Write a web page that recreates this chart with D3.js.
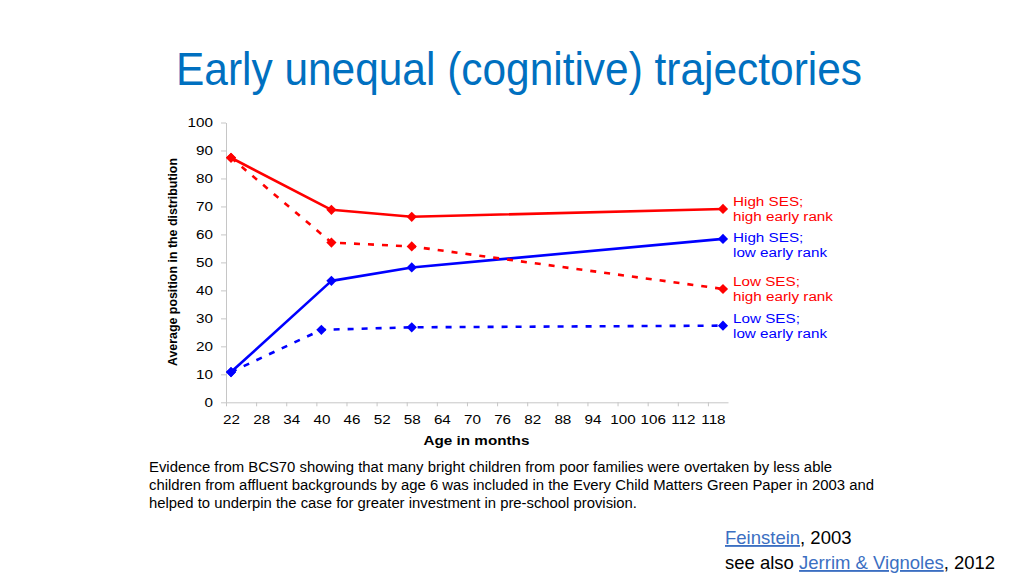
<!DOCTYPE html>
<html>
<head>
<meta charset="utf-8">
<script src="https://cdn.jsdelivr.net/npm/d3@7"></script>
<style>
  html, body { margin: 0; padding: 0; background: #ffffff; }
  svg { display: block; font-family: "Liberation Sans", Arial, Helvetica, sans-serif; }
</style>
</head>
<body>
<svg id="chart" width="1024" height="576"></svg>
<script>
// ---------------- DATA ----------------
const titleText = "Early unequal (cognitive) trajectories";
const yAxisTitle = "Average position in the distribution";
const xAxisTitle = "Age in months";

const yTickLabels = [0, 10, 20, 30, 40, 50, 60, 70, 80, 90, 100];
const xTickLabels = [22, 28, 34, 40, 46, 52, 58, 64, 70, 76, 82, 88, 94, 100, 106, 112, 118];

const ages = [22, 42, 58, 120];
const agesLowLow = [22, 40, 58, 120];

const highSesHighRank = [87.4, 68.8, 66.3, 69.1];
const highSesLowRank  = [10.8, 43.4, 48.2, 58.4];
const lowSesHighRank  = [87.4, 57.1, 55.7, 40.5];
const lowSesLowRank   = [10.8, 25.9, 26.8, 27.4];

const seriesLabels = [
  ["High SES;", "high early rank"],
  ["High SES;", "low early rank"],
  ["Low SES;", "high early rank"],
  ["Low SES;", "low early rank"]
];

const bodyLines = [
  "Evidence from BCS70 showing that many bright children from poor families were overtaken by less able",
  "children from affluent backgrounds by age 6 was included in the Every Child Matters Green Paper in 2003 and",
  "helped to underpin the case for greater investment in pre-school provision."
];

// ---------------- DRAW ----------------
const svg = d3.select("#chart");
const RED = "#ff0000", BLUE = "#0000ff", AXIS = "#c6c6c6", STRETCH = 1.27;

const series = [
  { x: ages, v: highSesHighRank, color: RED, dash: null, label: seriesLabels[0] },
  { x: ages, v: highSesLowRank, color: BLUE, dash: null, label: seriesLabels[1] },
  { x: ages, v: lowSesHighRank, color: RED, dash: "6,8", label: seriesLabels[2] },
  { x: agesLowLow, v: lowSesLowRank, color: BLUE, dash: "6,8", label: seriesLabels[3] }
];

const x = d3.scaleLinear().domain([21, 121]).range([226, 728]);
const y = d3.scaleLinear().domain([0, 100]).range([402.3, 122.5]);

// Title
svg.append("text")
  .attr("x", 519).attr("y", 85)
  .attr("text-anchor", "middle")
  .attr("font-size", 47)
  .attr("fill", "#0070c0")
  .attr("textLength", 686).attr("lengthAdjust", "spacingAndGlyphs")
  .text(titleText);

// Y axis
const yAxis = svg.append("g")
  .attr("transform", `translate(${x.range()[0]},0)`)
  .call(d3.axisLeft(y).tickValues(yTickLabels).tickSize(5).tickPadding(8).tickSizeOuter(0));

// X axis tick marks (between labels)
const xMarks = svg.append("g")
  .attr("transform", `translate(0,${y(0)})`)
  .call(d3.axisBottom(x).tickValues(xTickLabels.map(v => v - 1)).tickSize(4).tickSizeOuter(0).tickFormat(""));
// X axis labels
const xLabels = svg.append("g")
  .attr("transform", `translate(0,${y(0)})`)
  .call(d3.axisBottom(x).tickValues(xTickLabels).tickSize(0).tickPadding(13).tickSizeOuter(0));
xLabels.select(".domain").remove();

[yAxis, xMarks].forEach(g => {
  g.selectAll(".domain").attr("stroke", AXIS).attr("stroke-width", 1);
  g.selectAll(".tick line").attr("stroke", AXIS).attr("stroke-width", 1);
});
[yAxis, xLabels].forEach(g => {
  g.selectAll(".tick text")
    .attr("font-size", 12)
    .attr("font-family", "Liberation Sans, Arial, sans-serif")
    .attr("fill", "#000")
    .classed("stretch", true);
});

// Axis titles
svg.append("text")
  .attr("transform", "translate(177,262) rotate(-90)")
  .attr("text-anchor", "middle")
  .attr("font-size", 12).attr("font-weight", "bold")
  .attr("textLength", 208).attr("lengthAdjust", "spacingAndGlyphs")
  .text(yAxisTitle);

svg.append("text")
  .attr("x", 476.5).attr("y", 444.5)
  .attr("text-anchor", "middle")
  .attr("font-size", 12).attr("font-weight", "bold")
  .classed("stretch", true)
  .text(xAxisTitle);

// Lines
const line = d3.line().x(d => x(d[0])).y(d => y(d[1]));
const plot = svg.append("g");
series.forEach(s => {
  const pts = s.x.map((a, i) => [a, s.v[i]]);
  plot.append("path")
    .attr("d", line(pts))
    .attr("fill", "none")
    .attr("stroke", s.color)
    .attr("stroke-width", 2.6)
    .attr("stroke-dasharray", s.dash)
    .attr("stroke-linejoin", "round");
});
// Markers
const diamond = d3.symbol().type(d3.symbolSquare).size(52);
series.forEach(s => {
  const pts = s.x.map((a, i) => [a, s.v[i]]);
  plot.selectAll(null).data(pts).enter().append("path")
    .attr("d", diamond)
    .attr("transform", d => `translate(${x(d[0])},${y(d[1])}) rotate(45)`)
    .attr("fill", s.color);
});

// End labels with simple collision avoidance
const order = series.map(s => ({ s, yEnd: y(s.v[s.v.length - 1]) }))
  .sort((a, b) => a.yEnd - b.yEnd);
let prev = -Infinity;
order.forEach(o => {
  let b = o.yEnd - 3;
  if (b < prev + 36) b = prev + 36;
  prev = b;
  o.s.label.forEach((ln, k) => {
    svg.append("text")
      .attr("x", 733).attr("y", b + k * 15)
      .attr("font-size", 12)
      .attr("fill", o.s.color)
      .classed("stretch", true)
      .text(ln);
  });
});

// Apply horizontal stretch of chart text
svg.selectAll("text.stretch").each(function () {
  const w = this.getComputedTextLength();
  d3.select(this).attr("textLength", w * STRETCH).attr("lengthAdjust", "spacingAndGlyphs");
});

// Body text
const bodyWidths = [683, 725, 488];
bodyLines.forEach((ln, i) => {
  svg.append("text")
    .attr("x", 149).attr("y", 472 + i * 18)
    .attr("font-size", 14)
    .attr("fill", "#000")
    .attr("textLength", bodyWidths[i]).attr("lengthAdjust", "spacingAndGlyphs")
    .text(ln);
});

// References
const LINK = "#3b6fc2";
const r1 = svg.append("text").attr("x", 725).attr("y", 544).attr("font-size", 18.5).attr("fill", "#000");
r1.append("tspan").attr("fill", LINK).attr("text-decoration", "underline").text("Feinstein");
r1.append("tspan").text(", 2003");
const r2 = svg.append("text").attr("x", 725).attr("y", 569).attr("font-size", 18.5).attr("fill", "#000");
r2.append("tspan").text("see also ");
r2.append("tspan").attr("fill", LINK).attr("text-decoration", "underline").text("Jerrim & Vignoles");
r2.append("tspan").text(", 2012");
</script>
</body>
</html>
